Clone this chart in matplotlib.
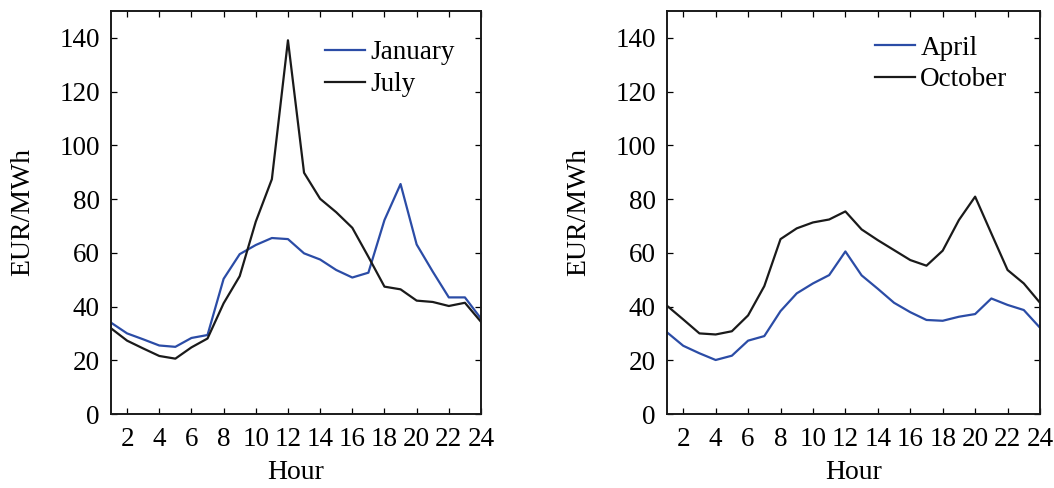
import matplotlib
matplotlib.use("Agg")
import matplotlib.pyplot as plt

plt.rcParams['font.family'] = ['Liberation Serif', 'DejaVu Serif']

hours = list(range(1, 25))

january = [34.0, 30.0, 27.8, 25.5, 25.0, 28.3, 29.4, 50.3, 59.5, 62.9, 65.5, 65.1,
           59.8, 57.5, 53.6, 50.8, 52.6, 72.2, 85.6, 63.1, 53.0, 43.4, 43.4, 35.5]
july = [31.9, 27.3, 24.4, 21.6, 20.6, 24.8, 28.1, 41.2, 51.3, 71.6, 87.4, 139.1,
        89.8, 80.1, 75.1, 69.3, 58.5, 47.4, 46.4, 42.2, 41.7, 40.2, 41.4, 34.3]
april = [30.4, 25.4, 22.6, 20.1, 21.7, 27.3, 29.0, 38.3, 44.9, 48.6, 51.7, 60.5,
         51.6, 46.6, 41.4, 37.9, 35.0, 34.7, 36.2, 37.2, 43.0, 40.6, 38.7, 32.1]
october = [40.3, 35.2, 30.0, 29.6, 30.8, 36.7, 47.6, 65.1, 69.1, 71.3, 72.4, 75.4,
           68.7, 64.7, 61.0, 57.3, 55.2, 60.8, 72.2, 80.9, 67.2, 53.6, 48.6, 41.4]

x_ticks = list(range(2, 25, 2))
y_ticks = list(range(0, 141, 20))

BLUE = "#2b4ca6"
BLACK = "#1a1a1a"
FS = 19.5
LFS = 20

fig = plt.figure(figsize=(10.54, 4.88), dpi=100)
ax_left = fig.add_axes([111 / 1054, 74 / 488, 370 / 1054, 403 / 488])
ax_right = fig.add_axes([667 / 1054, 74 / 488, 373 / 1054, 403 / 488])

panels = [
    (ax_left, [("January", january, BLUE), ("July", july, BLACK)], (0.578, 0.927)),
    (ax_right, [("April", april, BLUE), ("October", october, BLACK)], (0.558, 0.939)),
]

for ax, series, anchor in panels:
    for name, vals, col in series:
        ax.plot(hours, vals, color=col, lw=1.6, label=name)
    ax.set_xlim(1, 24)
    ax.set_ylim(0, 150)
    ax.set_xticks(x_ticks)
    ax.set_yticks(y_ticks)
    ax.tick_params(direction='in', top=True, right=True, length=4, width=0.9,
                   labelsize=FS)
    ax.tick_params(axis='x', pad=9)
    ax.tick_params(axis='y', pad=8)
    for sp in ax.spines.values():
        sp.set_linewidth(1.4)
        sp.set_color(BLACK)
    ax.set_xlabel("Hour", fontsize=LFS, labelpad=6)
    ax.set_ylabel("EUR/MWh", fontsize=LFS, labelpad=17)
    ax.legend(loc='upper left', bbox_to_anchor=anchor, frameon=False,
              fontsize=FS, handlelength=1.48, handletextpad=0.19,
              labelspacing=0.25, borderpad=0, borderaxespad=0)

fig.savefig("out.png", dpi=100)
